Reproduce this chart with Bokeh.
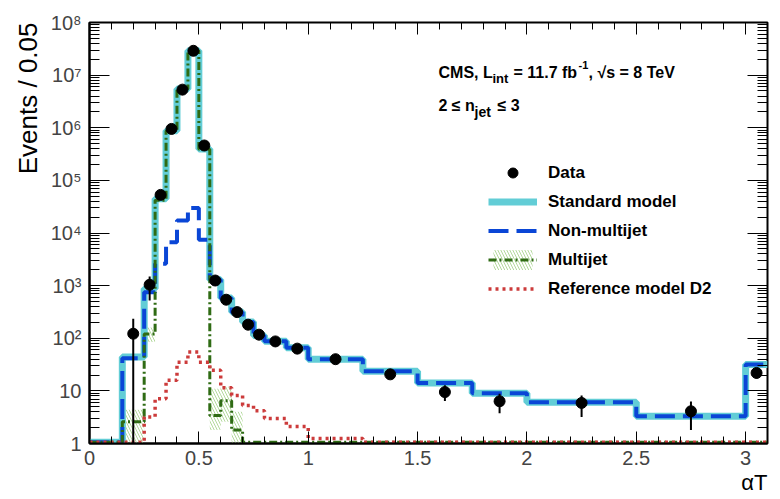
import numpy as np
from bokeh.plotting import figure
from bokeh.models import (ColumnDataSource, Label, Legend, LegendItem, LogAxis, LinearAxis,
                          SingleIntervalTicker, FixedTicker, Range1d, Title)
from bokeh.embed import file_html
from bokeh.resources import INLINE

# ---------------- data ----------------
BIN_EDGES = [0.0, 0.15, 0.25, 0.30, 0.35, 0.40, 0.45, 0.50, 0.55, 0.60, 0.65, 0.70,
             0.75, 0.80, 0.90, 1.00, 1.25, 1.50, 1.75, 2.00, 2.50, 3.00, 3.10]

STANDARD_MODEL = [0, 44, 870, 44600, 881000, 5.45e6, 2.9e7, 3.96e5, 1294, 580, 314, 203,
                  113, 88, 66, 40, 23.5, 14.1, 9.0, 6.1, 3.3, 31.6]
NON_MULTIJET = [0, 41.5, 750, 2600, 6690, 17300, 30000, 7430, 1290, 573, 312, 203,
                113, 88, 66, 40, 23.5, 14.1, 9.0, 6.1, 3.3, 31.6]
MULTIJET = [0, 2.6, 120, 42000, 874000, 5.43e6, 2.897e7, 3.89e5, 3.4, 6.5, 1.8, 0,
            0, 0, 0, 0, 0, 0, 0, 0, 0, 0]
MULTIJET_BAND_LO = [0, 0, 85, 39000, 820000, 5.1e6, 2.75e7, 3.6e5, 1.8, 2.6, 0, 0,
                    0, 0, 0, 0, 0, 0, 0, 0, 0, 0]
MULTIJET_BAND_HI = [0, 4.4, 160, 45000, 930000, 5.8e6, 3.05e7, 4.2e5, 11, 12, 4.0, 0,
                    0, 0, 0, 0, 0, 0, 0, 0, 0, 0]
REFERENCE_D2 = [0, 0, 3.2, 7.1, 15.9, 35, 55, 35, 24.6, 11.5, 8.2, 5.3,
                4.2, 3.0, 2.1, 1.24, 0, 0, 0, 0, 0, 0]

DATA = [None, 122, 1040, 53000, 950000, 5.3e6, 2.9e7, 4.6e5, 1250, 540, 314, 181,
        117, 87, 63.5, 40, 20.6, 9.5, 6.35, 5.9, 4.1, 21.9]
DATA_ERR_UP = [None, 113, 450, 230, 975, 2300, 5400, 680, 35, 23, 18, 13,
               11, 9.3, 8, 6.3, 3, 3.3, 2.5, 2.3, 2.2, 4.7]
DATA_ERR_DN = [None, 121.5, 516, 230, 975, 2300, 5400, 680, 35, 23, 18, 13,
               11, 9.3, 8, 6.3, 3, 3.1, 2.6, 2.7, 2.3, 4.7]

X_TICKS = [0, 0.5, 1, 1.5, 2, 2.5, 3]
X_TICK_LABELS = ["0", "0.5", "1", "1.5", "2", "2.5", "3"]
Y_TICKS = [1, 10, 1e2, 1e3, 1e4, 1e5, 1e6, 1e7, 1e8]
Y_TICK_LABELS = ["1", "10", "10²", "10³", "10⁴", "10⁵", "10⁶", "10⁷", "10⁸"]

# ---------------- layout / style ----------------
W, H = 780, 499
FRAME_L, FRAME_R, FRAME_T, FRAME_B = 89, 767, 22, 443
FONT = "Liberation Sans"
FLOOR = 1.06   # below-range bins are drawn along the bottom of the frame

C_SM = "#62cdd6"
C_NONMJ = "#0a46d6"
C_MJ = "#2f6b14"
C_D2 = "#cc3b3b"

edges = np.array(BIN_EDGES)
lefts, rights = edges[:-1], edges[1:]
centers = 0.5 * (lefts + rights)

p = figure(width=W, height=H, y_axis_type="log",
           x_range=Range1d(0, 3.1), y_range=Range1d(1, 1e8),
           output_backend="svg", toolbar_location=None,
           min_border_left=FRAME_L, min_border_right=W - FRAME_R,
           min_border_top=FRAME_T, min_border_bottom=H - FRAME_B)
p.xgrid.visible = False
p.ygrid.visible = False
p.outline_line_color = "black"
p.outline_line_width = 2
p.background_fill_color = "white"
p.border_fill_color = "white"

y_minor = [k * 10 ** d for d in range(8) for k in range(2, 10)]

# bottom axis
xa = p.xaxis[0]
xa.ticker = SingleIntervalTicker(interval=0.5, num_minor_ticks=5)
xa.major_label_overrides = {float(t): l for t, l in zip(X_TICKS, X_TICK_LABELS)}
xa.major_tick_in, xa.major_tick_out = 12, 0
xa.minor_tick_in, xa.minor_tick_out = 7, 0
xa.axis_line_width = 2
xa.major_label_text_font = FONT
xa.major_label_text_font_size = "20px"
xa.major_label_standoff = 7

# left axis
ya = p.yaxis[0]
ya.ticker = FixedTicker(ticks=Y_TICKS, minor_ticks=y_minor)
ya.major_label_overrides = {float(t): l for t, l in zip(Y_TICKS, Y_TICK_LABELS)}
ya.major_tick_in, ya.major_tick_out = 20, 0
ya.minor_tick_in, ya.minor_tick_out = 10, 0
ya.axis_line_width = 2
ya.major_label_text_font = FONT
ya.major_label_text_font_size = "20px"
ya.major_label_standoff = 8

# mirrored tick axes (no labels)
ra = LogAxis(ticker=FixedTicker(ticks=Y_TICKS, minor_ticks=y_minor),
             major_tick_in=20, major_tick_out=0, minor_tick_in=10, minor_tick_out=0,
             axis_line_color=None, major_label_text_color=None,
             major_label_text_font_size="0px", major_label_standoff=0)
p.add_layout(ra, "right")
ta = LinearAxis(ticker=SingleIntervalTicker(interval=0.5, num_minor_ticks=5),
                major_tick_in=12, major_tick_out=0, minor_tick_in=7, minor_tick_out=0,
                axis_line_color=None, major_label_text_color=None,
                major_label_text_font_size="0px", major_label_standoff=0)
p.add_layout(ta, "above")

# axis titles (side-panel titles, so they are not clipped by the frame)
p.add_layout(Title(text="Events / 0.05", align="right", text_font=FONT,
                   text_font_size="26px", text_font_style="normal", text_color="black",
                   standoff=10), "left")
p.add_layout(Title(text="αT", align="right", text_font=FONT,
                   text_font_size="22px", text_font_style="normal", text_color="black",
                   standoff=0), "below")


def step_y(vals):
    v = np.maximum(np.array(vals, dtype=float), FLOOR)
    return np.append(v, v[-1])


# multijet uncertainty band (hatched)
mlo = np.array(MULTIJET_BAND_LO, dtype=float)
mhi = np.array(MULTIJET_BAND_HI, dtype=float)
mask = mhi > 0
band_src = ColumnDataSource(dict(left=lefts[mask], right=rights[mask],
                                 bottom=np.maximum(mlo[mask], 0.5), top=mhi[mask]))
mj_band = p.quad(left="left", right="right", bottom="bottom", top="top", source=band_src,
                 fill_color=None, line_color=None, hatch_pattern="left_diagonal_line",
                 hatch_color="#b3d99c", hatch_scale=6, hatch_weight=1)
# standard-model band (legend swatch only; hidden under the thick line in the plot)
sm_band = p.quad(left=[], right=[], bottom=[], top=[], fill_color=None, line_color=None,
                 hatch_pattern="left_diagonal_line", hatch_color="#a9e4e9",
                 hatch_scale=6, hatch_weight=1)

sm_line = p.step(x=edges, y=step_y(STANDARD_MODEL), mode="after",
                 line_color=C_SM, line_width=7)
nonmj_line = p.step(x=edges, y=step_y(NON_MULTIJET), mode="after",
                    line_color=C_NONMJ, line_width=4, line_dash="20 8")
mj_line = p.step(x=edges, y=step_y(MULTIJET), mode="after",
                 line_color=C_MJ, line_width=3, line_dash="8 3 2 3")
d2_line = p.step(x=edges, y=step_y(REFERENCE_D2), mode="after",
                 line_color=C_D2, line_width=3.5, line_dash="3 4")

# data points with error bars
idx = [i for i, d in enumerate(DATA) if d is not None]
dx = centers[idx]
dy = np.array([DATA[i] for i in idx], dtype=float)
dup = dy + np.array([DATA_ERR_UP[i] for i in idx], dtype=float)
ddn = dy - np.array([DATA_ERR_DN[i] for i in idx], dtype=float)
err = p.segment(x0=dx, y0=ddn, x1=dx, y1=dup, line_color="black", line_width=2)
pts = p.scatter(x=dx, y=dy, marker="circle", size=11, fill_color="black", line_color="black")

# vertical error-bar swatch for the legend (no data of its own)
data_items = [pts]
if hasattr(p, "vspan"):
    err_swatch = p.vspan(x=[], line_color="black", line_width=2)
    data_items = [err_swatch, pts]

legend = Legend(items=[
    LegendItem(label="Data", renderers=data_items),
    LegendItem(label="Standard model", renderers=[sm_band, sm_line]),
    LegendItem(label="Non-multijet", renderers=[nonmj_line]),
    LegendItem(label="Multijet", renderers=[mj_band, mj_line]),
    LegendItem(label="Reference model D2", renderers=[d2_line]),
], location=(399, 142), glyph_width=49, glyph_height=25, label_height=25, spacing=4,
    label_standoff=11, padding=0, margin=0, border_line_color=None,
    background_fill_alpha=0, label_text_font=FONT, label_text_font_style="bold",
    label_text_font_size="17px", label_text_color="black")
p.add_layout(legend)


def add_text(txt, x_abs, y_abs, size, bold=True):
    p.add_layout(Label(x=x_abs - FRAME_L, y=FRAME_B - y_abs, x_units="screen", y_units="screen",
                       text=txt, text_font=FONT, text_font_size=f"{size}px",
                       text_font_style="bold" if bold else "normal", text_color="black",
                       text_align="left", text_baseline="alphabetic"))


# header
add_text("CMS, L", 438, 71.5, 16)
add_text("int", 492, 78, 13)
add_text("= 11.7 fb", 513, 71.5, 16)
add_text("-1", 578, 64.5, 11)
add_text(", √s = 8 TeV", 588, 71.5, 16)
add_text("2 ≤ n", 438, 105, 16)
add_text("jet", 474, 111, 14)
add_text("≤ 3", 497, 105, 16)

open("out.html", "w").write(file_html(p, INLINE))
